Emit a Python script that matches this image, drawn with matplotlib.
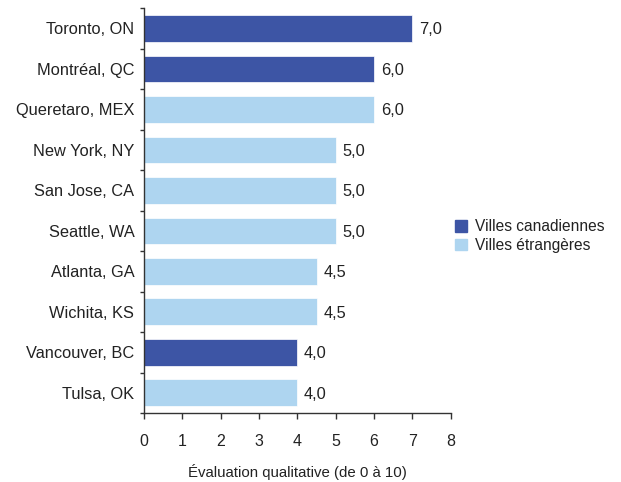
import numpy as np
import matplotlib.pyplot as plt

plt.rcParams['font.family'] = ['Liberation Sans', 'DejaVu Sans']

cities = ['Toronto, ON', 'Montréal, QC', 'Queretaro, MEX', 'New York, NY', 'San Jose, CA',
          'Seattle, WA', 'Atlanta, GA', 'Wichita, KS', 'Vancouver, BC', 'Tulsa, OK']
scores = [7.0, 6.0, 6.0, 5.0, 5.0, 5.0, 4.5, 4.5, 4.0, 4.0]
canadian = [True, True, False, False, False, False, False, False, True, False]

dark = '#3d55a5'
light = '#aed5f0'
txt = '#222222'

fig = plt.figure(figsize=(6.21, 4.82), dpi=100)
ax = fig.add_axes([0.232, 0.143, 0.494, 0.84])

y = np.arange(len(cities))
colors = [dark if c else light for c in canadian]
ax.barh(y, scores, height=0.66, color=colors, edgecolor='white', linewidth=0.5)

for yi, v in zip(y, scores):
    ax.text(v + 0.17, yi, f'{v:.1f}'.replace('.', ','), va='center_baseline', ha='left',
            fontsize=11.8, color=txt)

ax.set_ylim(len(cities) - 0.5, -0.5)
ax.set_xlim(0, 8)
ax.set_xticks(range(9))
ax.set_yticks(y)
ax.set_yticklabels(cities, fontsize=11.8, color=txt)
ax.set_yticks(np.arange(-0.5, len(cities)), minor=True)
ax.tick_params(axis='y', which='major', length=0, pad=7)
ax.tick_params(axis='y', which='minor', length=3, width=1, color='#333333')
ax.tick_params(axis='x', length=4, width=1, color='#333333', labelsize=11.5,
               labelcolor=txt, pad=11)
ax.set_xlabel('Évaluation qualitative (de 0 à 10)', fontsize=10.8, color=txt, labelpad=11)

for s in ['top', 'right']:
    ax.spines[s].set_visible(False)
for s in ['left', 'bottom']:
    ax.spines[s].set_color('#333333')
    ax.spines[s].set_linewidth(1)

h1 = plt.Rectangle((0, 0), 1, 1, color=dark)
h2 = plt.Rectangle((0, 0), 1, 1, color=light)
fig.legend([h1, h2], ['Villes canadiennes', 'Villes étrangères'],
           loc='center left', bbox_to_anchor=(0.71, 0.51), frameon=False,
           fontsize=11.2, handlelength=0.75, handleheight=0.75, handletextpad=0.55,
           labelspacing=0.25, labelcolor=txt)

fig.savefig('out.png', dpi=100)
